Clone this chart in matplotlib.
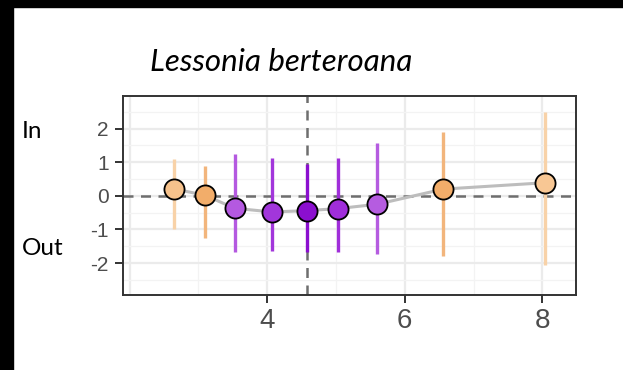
import numpy as np
import matplotlib
matplotlib.use("Agg")
import matplotlib.pyplot as plt
from matplotlib.patches import Rectangle

plt.rcParams["axes.unicode_minus"] = False

# estimates
x = [2.64, 3.09, 3.53, 4.07, 4.58, 5.03, 5.60, 6.56, 8.04]
y = [0.21, 0.02, -0.37, -0.48, -0.44, -0.38, -0.25, 0.20, 0.39]
lo = [-0.99, -1.24, -1.68, -1.63, -1.66, -1.68, -1.72, -1.80, -2.05]
hi = [1.09, 0.89, 1.24, 1.12, 0.95, 1.14, 1.56, 1.89, 2.50]
fills = ["#F6C28C", "#F2AD6A", "#B459E0", "#A236DB", "#8B0FCF",
         "#A02EDA", "#B55CE0", "#F2AD6A", "#F8C794"]
bars = ["#F8D2A8", "#F2B57C", "#B459E0", "#A236DB", "#8B0FCF",
        "#A02EDA", "#B55CE0", "#F2B57C", "#F8D2A8"]
vline_x = 4.58
xticks = [4, 6, 8]
yticks = [-2, -1, 0, 1, 2]
title = "Lessonia berteroana"

fig = plt.figure(figsize=(6.23, 3.70), dpi=100, facecolor="white")
ax = fig.add_axes([122.7 / 623, 1 - 295 / 370, (576 - 122.7) / 623, (295 - 96) / 370])

ax.set_xlim(1.9, 8.49)
ax.set_ylim(-2.95, 2.97)

# grid
for g in [2, 4, 6, 8]:
    ax.axvline(g, color="#EBEBEB", lw=1.6, zorder=0)
for g in [3, 5, 7]:
    ax.axvline(g, color="#F3F3F3", lw=0.9, zorder=0)
for g in yticks:
    ax.axhline(g, color="#EBEBEB", lw=1.6, zorder=0)
for g in [-2.5, -1.5, -0.5, 0.5, 1.5, 2.5]:
    ax.axhline(g, color="#F3F3F3", lw=0.9, zorder=0)

ax.axhline(0, color="#6E6E6E", lw=1.8, ls=(0, (4, 3)), zorder=1)
ax.axvline(vline_x, color="#6E6E6E", lw=1.8, ls=(0, (4, 3)), zorder=1)

ax.plot(x, y, color="#BDBDBD", lw=2.2, zorder=2)
for i in range(len(x)):
    ax.plot([x[i], x[i]], [lo[i], hi[i]], color=bars[i], lw=2.4, zorder=3,
            solid_capstyle="butt")
    ax.plot(x[i], y[i], "o", ms=14.5, mfc=fills[i], mec="black", mew=1.3, zorder=4)

ax.set_xticks(xticks)
ax.set_yticks(yticks)
ax.tick_params(axis="both", colors="#333333", width=1.4, length=6)
ax.tick_params(axis="x", labelsize=20, labelcolor="#4D4D4D", pad=3)
ax.tick_params(axis="y", labelsize=15, labelcolor="#4D4D4D", pad=4)
for lab in ax.get_xticklabels() + ax.get_yticklabels():
    lab.set_family("Liberation Sans")
for s in ax.spines.values():
    s.set_color("#333333")
    s.set_linewidth(1.4)

fig.text(281 / 623, 1 - 71 / 370, title, family="Lato", style="italic",
         fontsize=22.5, ha="center", va="baseline")
fig.text(22 / 623, 1 - 138 / 370, "In", family="Lato", fontsize=17.5, va="baseline")
fig.text(22 / 623, 1 - 255 / 370, "Out", family="Lato", fontsize=17.5, va="baseline")

# black frame strips on the left and top
fig.patches.append(Rectangle((0, 0), 13 / 623, 1, transform=fig.transFigure,
                             color="black", zorder=10))
fig.patches.append(Rectangle((0, 1 - 7 / 370), 1, 7 / 370, transform=fig.transFigure,
                             color="black", zorder=10))

fig.savefig("out.png", dpi=100, facecolor="white")
